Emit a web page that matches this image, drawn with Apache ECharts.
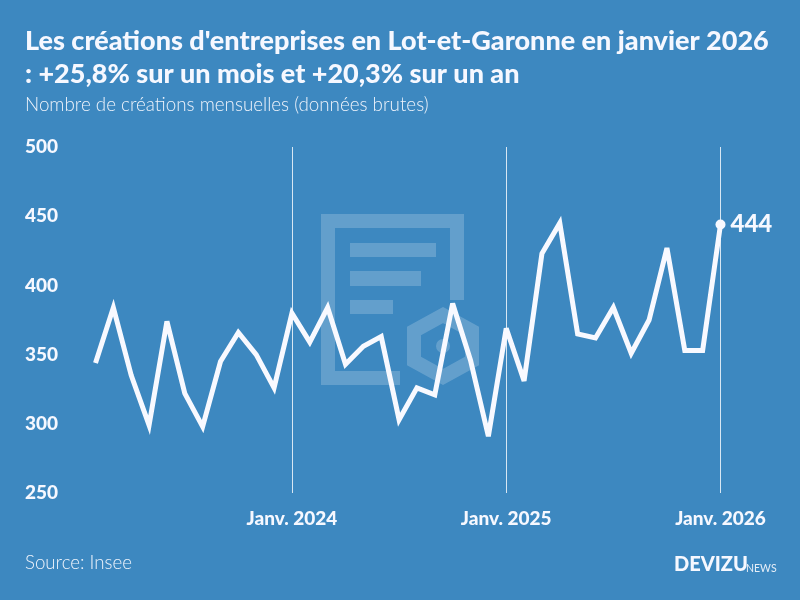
<!DOCTYPE html>
<html><head><meta charset="utf-8">
<style>html,body{margin:0;padding:0;background:#3d88c0}#c{width:800px;height:600px}</style>
<script src="https://cdn.jsdelivr.net/npm/echarts@6/dist/echarts.min.js"></script>
</head><body><div id="c"></div>
<script>
const months = ['2023-02','2023-03','2023-04','2023-05','2023-06','2023-07','2023-08','2023-09','2023-10','2023-11','2023-12',
'2024-01','2024-02','2024-03','2024-04','2024-05','2024-06','2024-07','2024-08','2024-09','2024-10','2024-11','2024-12',
'2025-01','2025-02','2025-03','2025-04','2025-05','2025-06','2025-07','2025-08','2025-09','2025-10','2025-11','2025-12',
'2026-01'];
const creations = [344,384,335,299,374,322,298,345,366,350,326,
380,359,384,343,356,363,303,326,321,387,346,291,
369,331,423,445,365,362,384,351,375,427,353,353,
444];
const yTicks = [250,300,350,400,450,500];
const titleLine1 = "Les créations d'entreprises en Lot-et-Garonne en janvier 2026";
const titleLine2 = ": +25,8% sur un mois et +20,3% sur un an";
const subtitle = "Nombre de créations mensuelles (données brutes)";
const source = "Source: Insee";
const FONT = 'Lato';
const INK = '#f6f8ff';
const MARK = 'rgba(255,255,255,0.2)';
const last = months.length - 1;
const isJan = i => months[i].endsWith('-01');
const chart = echarts.init(document.getElementById('c'), null, {renderer:'canvas'});
chart.setOption({
  backgroundColor:'#3d88c0',
  animation:false,
  textStyle:{fontFamily:FONT},
  grid:{left:95.5,right:79.5,top:147,bottom:107},
  xAxis:{type:'category',data:months,boundaryGap:false,
    axisLine:{show:false},axisTick:{show:false},
    splitLine:{show:true,interval:i=>isJan(i),lineStyle:{color:'rgba(255,255,255,0.8)',width:1}},
    axisLabel:{interval:i=>isJan(i),margin:16,color:INK,fontFamily:FONT,fontWeight:900,fontSize:19,
      formatter:v=>'Janv. '+v.slice(0,4)}},
  yAxis:{type:'value',min:yTicks[0],max:yTicks[yTicks.length-1],interval:50,
    axisLine:{show:false},axisTick:{show:false},splitLine:{show:false},
    axisLabel:{align:'left',margin:70.5,color:INK,fontFamily:FONT,fontWeight:900,fontSize:19}},
  series:[{type:'line',data:creations,z:5,
    symbol:'circle',symbolSize:(v,p)=>p.dataIndex===last?10:0,showAllSymbol:true,
    lineStyle:{color:'#f8f9ff',width:5,join:'miter',miterLimit:4},
    itemStyle:{color:'#f8f9ff'},
    label:{show:true,position:'right',distance:5,color:INK,fontFamily:FONT,fontWeight:900,fontSize:24,
      formatter:p=>p.dataIndex===last?String(p.value):''}}],
  graphic:[
    {type:'polygon',z:1,shape:{points:[[321,214],[464,214],[464,300],[450,300],[450,228],[335,228],[335,371],[400,371],[400,385],[321,385]]},style:{fill:MARK}},
    {type:'rect',z:1,shape:{x:350,y:243,width:86,height:14},style:{fill:MARK}},
    {type:'rect',z:1,shape:{x:350,y:271,width:71,height:15},style:{fill:MARK}},
    {type:'rect',z:1,shape:{x:350,y:300,width:43,height:14},style:{fill:MARK}},
    {type:'polygon',z:1,shape:{points:[[443,315],[472,331],[472,361],[443,377],[414,361],[414,331]]},style:{fill:'none',stroke:MARK,lineWidth:14}},
    {type:'circle',z:1,shape:{cx:443,cy:346,r:7},style:{fill:MARK}},
    {type:'text',z:10,x:25,y:28,style:{text:titleLine1,fill:INK,font:'900 27px '+FONT}},
    {type:'text',z:10,x:25,y:61,style:{text:titleLine2,fill:INK,font:'900 27px '+FONT}},
    {type:'text',z:10,x:25,y:95,style:{text:subtitle,fill:'#eef3fb',font:'300 18.8px '+FONT}},
    {type:'text',z:10,x:25,y:553,style:{text:source,fill:'#eef3fb',font:'300 18.7px '+FONT}},
    {type:'text',z:10,x:674,y:555,style:{text:'DEVIZU',fill:INK,font:'900 20px '+FONT}},
    {type:'text',z:10,x:746,y:563,style:{text:'NEWS',fill:'#e6eef7',font:'400 10.5px '+FONT}}
  ]
});
</script></body></html>
